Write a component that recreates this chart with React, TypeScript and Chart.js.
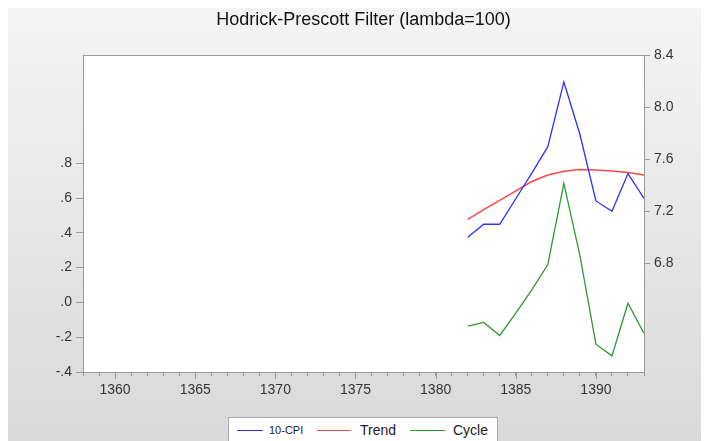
import React, { useEffect, useRef } from "react";
import { Chart, registerables } from "chart.js";

Chart.register(...registerables);

const titleText = "Hodrick-Prescott Filter (lambda=100)";
const years = [1382, 1383, 1384, 1385, 1386, 1387, 1388, 1389, 1390, 1391, 1392, 1393];
const cpi = [7.0, 7.1, 7.1, 7.296, 7.492, 7.696, 8.193, 7.791, 7.279, 7.2, 7.489, 7.299];
const trend = [7.138, 7.212, 7.284, 7.356, 7.428, 7.478, 7.507, 7.52, 7.517, 7.509, 7.497, 7.478];
const cycle = [-0.136, -0.115, -0.19, -0.062, 0.072, 0.218, 0.684, 0.27, -0.24, -0.307, -0.005, -0.178];
const leftTicks = [-0.4, -0.2, 0.0, 0.2, 0.4, 0.6, 0.8];
const rightTicks = [6.8, 7.2, 7.6, 8.0, 8.4];
const xMin = 1358;
const xMax = 1393;
const labelNames = ["10-CPI", "Trend", "Cycle"];
const colors = ["#2f2fff", "#ff4646", "#2e992e"];

const W = 701;
const H = 433;
const FONT = "'Liberation Sans', Arial, sans-serif";
const AXIS_COLOR = "#9a9a9a";

const framePlugin = {
  id: "framePlugin",
  beforeDraw(chart: any) {
    const { ctx, chartArea } = chart;
    ctx.save();
    const g = ctx.createLinearGradient(0, 0, 0, chart.height);
    g.addColorStop(0, "#f4f4f4");
    g.addColorStop(1, "#d9d9d9");
    ctx.fillStyle = g;
    ctx.fillRect(0, 0, chart.width, chart.height);
    ctx.fillStyle = "#ffffff";
    ctx.fillRect(chartArea.left, chartArea.top, chartArea.right - chartArea.left, chartArea.bottom - chartArea.top);
    ctx.restore();
  },
  afterDraw(chart: any) {
    const { ctx, chartArea } = chart;
    const xs = chart.scales.x;
    ctx.save();
    ctx.strokeStyle = AXIS_COLOR;
    ctx.lineWidth = 1;
    ctx.strokeRect(
      Math.round(chartArea.left) + 0.5,
      Math.round(chartArea.top) + 0.5,
      Math.round(chartArea.right - chartArea.left),
      Math.round(chartArea.bottom - chartArea.top)
    );
    ctx.beginPath();
    for (let v = xMin; v <= xMax; v++) {
      if (v % 5 === 0) {
        const px = Math.round(xs.getPixelForValue(v)) + 0.5;
        ctx.moveTo(px, chartArea.bottom);
        ctx.lineTo(px, chartArea.bottom + 7);
      }
    }
    ctx.stroke();
    ctx.restore();
  },
};

function fmtLeft(v: number) {
  const s = Number(v).toFixed(1);
  return s.replace(/^(-?)0\./, "$1.");
}

export default function App() {
  const ref = useRef<HTMLCanvasElement | null>(null);

  useEffect(() => {
    if (!ref.current) return;
    const mk = (arr: number[]) => years.map((y, i) => ({ x: y, y: arr[i] }));
    const chart = new Chart(ref.current, {
      type: "line",
      data: {
        datasets: [
          { label: labelNames[0], data: mk(cpi), borderColor: colors[0], borderWidth: 1.3, pointRadius: 0, yAxisID: "yR", tension: 0 },
          { label: labelNames[1], data: mk(trend), borderColor: colors[1], borderWidth: 1.5, pointRadius: 0, yAxisID: "yR", tension: 0 },
          { label: labelNames[2], data: mk(cycle), borderColor: colors[2], borderWidth: 1.3, pointRadius: 0, yAxisID: "yL", tension: 0 },
        ],
      },
      options: {
        responsive: false,
        animation: false,
        devicePixelRatio: 1,
        layout: { padding: 0 },
        plugins: {
          legend: { display: false },
          tooltip: { enabled: false },
          title: {
            display: true,
            text: titleText,
            fullSize: false,
            color: "#111",
            font: { family: FONT, size: 18, weight: "normal" },
            padding: { top: 1, bottom: 24.4 },
          },
        },
        scales: {
          x: {
            type: "linear",
            min: xMin,
            max: xMax,
            afterBuildTicks: (s: any) => {
              const t = [];
              for (let v = xMin; v <= xMax; v++) t.push({ value: v });
              s.ticks = t;
            },
            afterFit: (s: any) => {
              s.height = 69;
            },
            ticks: {
              autoSkip: false,
              maxRotation: 0,
              padding: 6,
              color: "#333",
              font: { family: FONT, size: 14 },
              callback: (v: any) => (Number(v) % 5 === 0 ? String(v) : ""),
            },
            grid: { drawOnChartArea: false, drawTicks: true, tickLength: 4, color: AXIS_COLOR },
            border: { display: false },
          },
          yL: {
            type: "linear",
            position: "left",
            min: -0.4,
            max: 1.422,
            afterBuildTicks: (s: any) => {
              s.ticks = leftTicks.map((v) => ({ value: v }));
            },
            afterFit: (s: any) => {
              s.width = 75;
            },
            ticks: {
              padding: 4,
              color: "#333",
              font: { family: FONT, size: 14 },
              callback: (v: any) => fmtLeft(Number(v)),
            },
            grid: { drawOnChartArea: false, drawTicks: true, tickLength: 7, color: AXIS_COLOR },
            border: { display: false },
          },
          yR: {
            type: "linear",
            position: "right",
            min: 5.965,
            max: 8.4,
            afterBuildTicks: (s: any) => {
              s.ticks = rightTicks.map((v) => ({ value: v }));
            },
            afterFit: (s: any) => {
              s.width = 65;
            },
            ticks: {
              padding: 4,
              color: "#333",
              font: { family: FONT, size: 14 },
              callback: (v: any) => Number(v).toFixed(1),
            },
            grid: { drawOnChartArea: false, drawTicks: true, tickLength: 6, color: AXIS_COLOR },
            border: { display: false },
          },
        },
      },
      plugins: [framePlugin],
    } as any);
    return () => chart.destroy();
  }, []);

  const itemStyle = (left: number, size: number): React.CSSProperties => ({
    position: "absolute",
    left,
    top: 4,
    height: 16,
    lineHeight: "16px",
    fontSize: size,
    fontFamily: FONT,
    color: "#222",
    whiteSpace: "nowrap",
  });
  const lineStyle = (left: number, width: number, color: string): React.CSSProperties => ({
    position: "absolute",
    left,
    top: 11.5,
    width,
    height: 0,
    borderTop: `1.3px solid ${color}`,
  });

  return (
    <div style={{ position: "relative", width: W, height: H }}>
      <canvas ref={ref} width={W} height={H} style={{ display: "block", width: W, height: H }} />
      <div
        style={{
          position: "absolute",
          left: 220,
          top: 409,
          width: 268,
          height: 26,
          background: "#ffffff",
          border: "1px solid #a8a8a8",
        }}
      >
        <div style={lineStyle(8, 26, colors[0])} />
        <div style={itemStyle(40, 11)}>{labelNames[0]}</div>
        <div style={lineStyle(88, 34, colors[1])} />
        <div style={itemStyle(131, 14)}>{labelNames[1]}</div>
        <div style={lineStyle(181, 35, colors[2])} />
        <div style={itemStyle(224, 14)}>{labelNames[2]}</div>
      </div>
    </div>
  );
}
